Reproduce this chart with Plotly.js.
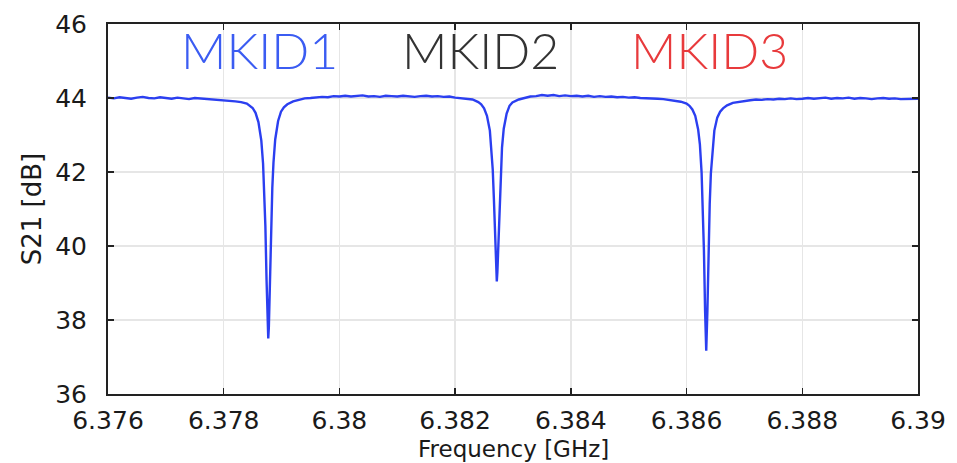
<!DOCTYPE html>
<html>
<head>
<meta charset="utf-8">
<script src="https://cdn.plot.ly/plotly-3.0.1.min.js"></script>
<style>html,body{margin:0;padding:0;background:#fff;}#chart{width:957px;height:463px;}</style>
</head>
<body>
<div id="chart"></div>
<script>
// Frequency [GHz]
var freq = [
6.3760,6.3761,6.3762,6.3763,6.3764,6.3765,6.3766,6.3767,6.3768,6.3769,
6.3770,6.3771,6.3772,6.3773,6.3774,6.3775,6.3776,6.3777,6.3778,6.3779,
6.3780,6.3781,6.3782,6.3783,6.3784,6.3785,6.37855,6.3786,6.37865,6.37868,
6.3787,6.37872,6.37874,6.37876,6.37877,6.37878,6.3788,6.37882,6.37884,6.37886,
6.37889,6.37894,6.37899,6.37904,6.3791,6.3792,6.3793,6.3794,6.3795,6.3796,
6.3797,6.3798,6.3799,6.3800,6.3801,6.3802,6.3803,6.3804,6.3805,6.3806,
6.3807,6.3808,6.3809,6.3810,6.3811,6.3812,6.3813,6.3814,6.3815,6.3816,
6.3817,6.3818,6.3819,6.3820,6.3821,6.3822,6.3823,6.3824,6.38245,6.3825,
6.38255,6.3826,6.38263,6.38265,6.38267,6.38269,6.38271,6.38272,6.38273,6.38275,
6.38277,6.38279,6.38281,6.38284,6.38289,6.38294,6.38299,6.3831,6.3832,6.3833,
6.3834,6.3835,6.3836,6.3837,6.3838,6.3839,6.3840,6.3841,6.3842,6.3843,
6.3844,6.3845,6.3846,6.3847,6.3848,6.3849,6.3850,6.3851,6.3852,6.3853,
6.3854,6.3855,6.3856,6.3857,6.3858,6.3859,6.3860,6.38605,6.3861,6.38615,
6.3862,6.38623,6.38626,6.38628,6.3863,6.38632,6.38634,6.38636,6.38638,6.3864,
6.38642,6.38645,6.38648,6.38653,6.38658,6.38663,6.3867,6.3868,6.3869,6.3870,
6.3871,6.3872,6.3873,6.3874,6.3875,6.3876,6.3877,6.3878,6.3879,6.3880,
6.3881,6.3882,6.3883,6.3884,6.3885,6.3886,6.3887,6.3888,6.3889,6.3890,
6.3891,6.3892,6.3893,6.3894,6.3895,6.3896,6.3897,6.3898,6.3899,6.3900
];
// S21 [dB]
var s21 = [
44.01,43.99,44.02,44.00,43.98,44.01,44.03,44.00,43.99,44.02,
44.00,43.98,44.01,44.00,43.97,44.00,43.99,43.97,43.96,43.95,
43.94,43.92,43.91,43.89,43.85,43.73,43.60,43.35,42.85,42.23,
41.55,40.55,39.10,37.80,37.50,37.80,39.10,40.56,41.57,42.25,
42.88,43.38,43.63,43.75,43.83,43.91,43.96,43.99,44.00,44.02,
44.03,44.02,44.05,44.04,44.06,44.04,44.05,44.07,44.04,44.05,
44.03,44.06,44.05,44.04,44.06,44.05,44.03,44.05,44.06,44.04,
44.05,44.03,44.04,44.01,43.99,43.98,43.96,43.89,43.83,43.72,
43.52,43.12,42.61,42.06,41.26,40.19,39.29,39.04,39.30,40.21,
41.29,42.10,42.66,43.17,43.58,43.79,43.88,43.96,44.01,44.04,
44.05,44.08,44.06,44.08,44.05,44.07,44.05,44.06,44.04,44.06,
44.03,44.05,44.03,44.04,44.02,44.03,44.01,44.02,44.00,44.00,
43.99,43.98,43.97,43.95,43.94,43.90,43.85,43.79,43.69,43.52,
43.15,42.75,41.98,41.15,39.88,38.25,37.17,38.25,39.86,41.13,
41.96,42.70,43.12,43.47,43.63,43.72,43.80,43.87,43.90,43.93,
43.94,43.96,43.95,43.97,43.96,43.98,43.97,43.99,43.97,43.98,
44.00,43.98,43.99,44.01,43.98,44.00,43.99,44.01,43.98,44.00,
43.99,43.97,43.99,44.00,43.98,43.99,43.97,43.98,43.99,43.98
];
var xTicks = [6.376, 6.378, 6.38, 6.382, 6.384, 6.386, 6.388, 6.39];
var xTickText = ['6.376', '6.378', '6.38', '6.382', '6.384', '6.386', '6.388', '6.39'];
var yTicks = [36, 38, 40, 42, 44, 46];
var labels = ['MKID1', 'MKID2', 'MKID3'];
var labelColors = ['#3b5cf2', '#333333', '#e83a3c'];
var labelX = [0.1875, 0.46, 0.743];
var xTitle = 'Frequency [GHz]';
var yTitle = 'S21 [dB]';

var trace = {
  x: freq, y: s21, type: 'scatter', mode: 'lines',
  line: {color: '#2b3ff0', width: 2.4},
  hoverinfo: 'none'
};

var tickFont = {family: 'DejaVu Sans, Liberation Sans, sans-serif', size: 25, color: '#1a1a1a'};
var titleFont = {family: 'DejaVu Sans, Liberation Sans, sans-serif', size: 26, color: '#1a1a1a'};
var xTitleFont = {family: 'DejaVu Sans, Liberation Sans, sans-serif', size: 23, color: '#1a1a1a'};

var annotations = labels.map(function (t, i) {
  return {
    text: t, xref: 'paper', yref: 'paper', x: labelX[i], y: 0.93,
    xanchor: 'center', yanchor: 'middle', showarrow: false,
    font: {family: 'Lato, Open Sans, sans-serif', size: 50, color: labelColors[i], weight: 300}
  };
});
annotations.push({
  text: xTitle, xref: 'paper', yref: 'paper', x: 0.5, y: -0.1486,
  xanchor: 'center', yanchor: 'middle', showarrow: false, font: xTitleFont
});

var layout = {
  width: 957, height: 463,
  margin: {l: 108, r: 39, t: 24, b: 69},
  paper_bgcolor: '#ffffff', plot_bgcolor: '#ffffff',
  showlegend: false,
  xaxis: {
    range: [6.376, 6.39], tickvals: xTicks, ticktext: xTickText,
    ticks: 'inside', ticklen: 6, tickwidth: 1.5, tickcolor: '#222',
    showline: true, linecolor: '#222', linewidth: 2, mirror: 'ticks',
    showgrid: true, gridcolor: '#e6e6e6', gridwidth: 1.5,
    zeroline: false, tickfont: tickFont, ticklabelstandoff: 3
  },
  yaxis: {
    range: [36, 46], tickvals: yTicks,
    ticks: 'inside', ticklen: 6, tickwidth: 1.5, tickcolor: '#222',
    showline: true, linecolor: '#222', linewidth: 2, mirror: 'ticks',
    showgrid: true, gridcolor: '#e6e6e6', gridwidth: 1.5,
    zeroline: false, tickfont: tickFont, ticklabelstandoff: 14,
    title: {text: yTitle, font: titleFont, standoff: 6}
  },
  annotations: annotations
};

Plotly.newPlot('chart', [trace], layout, {staticPlot: true, displayModeBar: false});
</script>
</body>
</html>
